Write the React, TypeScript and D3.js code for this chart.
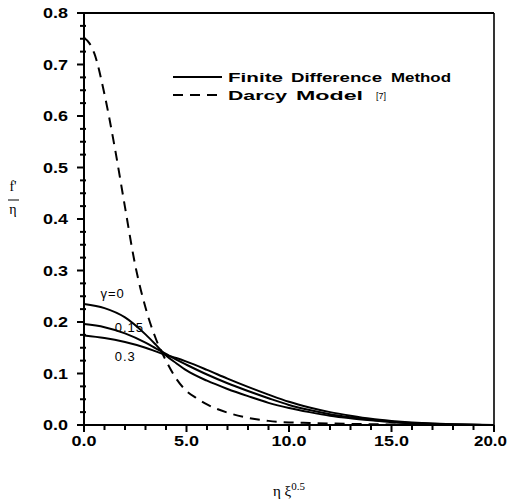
import React from "react";
import * as d3 from "d3";

const xs = [0, 1, 2, 3, 3.5, 4, 4.5, 5, 6, 7, 8, 9, 10, 11, 12, 13, 14, 15, 16, 17, 18, 19, 20];
const gamma0 = [0.235, 0.227, 0.209, 0.176, 0.156, 0.135, 0.12, 0.106, 0.086, 0.07, 0.056, 0.043, 0.033, 0.025, 0.018, 0.013, 0.009, 0.0055, 0.0033, 0.0018, 0.0008, 0.0003, 0];
const gamma015 = [0.196, 0.19, 0.178, 0.16, 0.149, 0.138, 0.127, 0.117, 0.098, 0.081, 0.066, 0.052, 0.039, 0.029, 0.021, 0.015, 0.01, 0.0065, 0.004, 0.0022, 0.001, 0.0004, 0];
const gamma03 = [0.174, 0.169, 0.161, 0.15, 0.143, 0.136, 0.13, 0.123, 0.107, 0.09, 0.074, 0.059, 0.045, 0.034, 0.025, 0.018, 0.012, 0.008, 0.005, 0.0028, 0.0013, 0.0005, 0];

const darcyX = [0, 0.25, 0.5, 1.0, 1.5, 2.0, 2.5, 3.0, 3.5, 4.0, 4.5, 5.0, 5.5, 6, 7, 8, 9, 10, 11, 12, 14, 16, 20];
const darcyY = [0.752, 0.742, 0.722, 0.642, 0.539, 0.423, 0.31, 0.228, 0.168, 0.125, 0.09, 0.066, 0.052, 0.04, 0.024, 0.014, 0.008, 0.005, 0.004, 0.003, 0.0015, 0.0005, 0];

const xMajor = [0, 5, 10, 15, 20];
const yMajor = [0, 0.1, 0.2, 0.3, 0.4, 0.5, 0.6, 0.7, 0.8];

const curveLabels = [
  { text: "\u03b3=0", x: 0.8, y: 0.247 },
  { text: "0.15", x: 1.5, y: 0.18 },
  { text: "0.3", x: 1.5, y: 0.124 },
];

const legendWords = [
  { text: "Finite", x: 228, y: 82, w: 55, size: 13, bold: true },
  { text: "Difference", x: 291, y: 82, w: 91, size: 13, bold: true },
  { text: "Method", x: 391, y: 82, w: 60, size: 13, bold: true },
  { text: "Darcy", x: 228, y: 100, w: 59, size: 13, bold: true },
  { text: "Model", x: 296, y: 100, w: 67, size: 13, bold: true },
  { text: "[7]", x: 376, y: 99, w: 10, size: 9, bold: false },
];

export default function App() {
  const left = 84, right = 494, top = 13, bottom = 425;
  const x = d3.scaleLinear().domain([0, 20]).range([left, right]);
  const y = d3.scaleLinear().domain([0, 0.8]).range([bottom, top]);
  const line = d3
    .line<[number, number]>()
    .x((d) => x(d[0]))
    .y((d) => y(d[1]))
    .curve(d3.curveMonotoneX);

  const solid = [gamma0, gamma015, gamma03].map((s) => line(xs.map((v, i) => [v, s[i]] as [number, number])) || "");
  const dashed = line(darcyX.map((v, i) => [v, darcyY[i]] as [number, number])) || "";

  const xMinor = d3.range(0, 21, 1).filter((v) => v % 5 !== 0);
  const yMinor = d3.range(0, 33).map((i) => i * 0.025).filter((_, i) => i % 4 !== 0);

  const tickFont = "'Liberation Sans', Arial, sans-serif";
  const labelWidth = (s: string) => (s.length - 1) * 10 + 5;

  return (
    <svg width={508} height={504} style={{ position: "absolute", left: 0, top: 0, background: "#fff" }}>
      <rect x={0} y={0} width={508} height={504} fill="#fff" />
      {/* frame */}
      <line x1={left} y1={top} x2={right} y2={top} stroke="#000" strokeWidth={2} />
      <line x1={right} y1={top} x2={right} y2={bottom} stroke="#000" strokeWidth={1.6} />
      <line x1={left} y1={bottom} x2={right} y2={bottom} stroke="#000" strokeWidth={2} />
      <line x1={left} y1={top} x2={left} y2={bottom} stroke="#000" strokeWidth={2} />

      {/* x ticks */}
      {xMajor.map((v) => (
        <line key={"xM" + v} x1={x(v)} x2={x(v)} y1={bottom} y2={bottom + 7} stroke="#000" strokeWidth={2} />
      ))}
      {xMinor.map((v) => (
        <line key={"xm" + v} x1={x(v)} x2={x(v)} y1={bottom} y2={bottom + 5} stroke="#000" strokeWidth={2} />
      ))}
      {xMajor.map((v, i) => {
        const s = v.toFixed(1);
        const last = i === xMajor.length - 1;
        const w = last ? labelWidth(s) - 2 : labelWidth(s);
        const x0 = last ? 507 - w : x(v) - w / 2;
        return (
          <text
            key={"xl" + v}
            x={x0}
            y={bottom + 21}
            fontFamily={tickFont}
            fontWeight="bold"
            fontSize={14}
            textLength={w}
            lengthAdjust="spacingAndGlyphs"
          >
            {s}
          </text>
        );
      })}

      {/* y ticks */}
      {yMajor.map((v) => (
        <line key={"yM" + v} x1={left - 7} x2={left + 1} y1={y(v)} y2={y(v)} stroke="#000" strokeWidth={2} />
      ))}
      {yMinor.map((v) => (
        <line key={"ym" + v} x1={left - 4} x2={left + 2} y1={y(v)} y2={y(v)} stroke="#000" strokeWidth={2} />
      ))}
      {yMajor.map((v) => {
        const s = v.toFixed(1);
        const w = labelWidth(s);
        return (
          <text
            key={"yl" + v}
            x={68 - w}
            y={y(v) + 5}
            fontFamily={tickFont}
            fontWeight="bold"
            fontSize={14}
            textLength={w}
            lengthAdjust="spacingAndGlyphs"
          >
            {s}
          </text>
        );
      })}

      {/* curves */}
      {solid.map((d, i) => (
        <path key={"s" + i} d={d} fill="none" stroke="#000" strokeWidth={2} />
      ))}
      <path d={dashed} fill="none" stroke="#000" strokeWidth={2} strokeDasharray="10,7" />

      {/* curve labels */}
      {curveLabels.map((l) => (
        <text key={l.text} x={x(l.x)} y={y(l.y)} fontFamily={tickFont} fontSize={13} letterSpacing={1}>
          {l.text}
        </text>
      ))}

      {/* legend */}
      <line x1={173} x2={222} y1={77} y2={77} stroke="#000" strokeWidth={2} />
      <line x1={173} x2={222} y1={95} y2={95} stroke="#000" strokeWidth={2} strokeDasharray="10,7" />
      {legendWords.map((w) => (
        <text
          key={w.text}
          x={w.x}
          y={w.y}
          fontFamily={tickFont}
          fontWeight={w.bold ? "bold" : "normal"}
          fontSize={w.size}
          textLength={w.w}
          lengthAdjust="spacingAndGlyphs"
        >
          {w.text}
        </text>
      ))}

      {/* y label: f'/eta fraction */}
      <text x={13} y={191} textAnchor="middle" fontFamily="'Liberation Serif', serif" fontSize={14}>
        f'
      </text>
      <line x1={8} x2={19} y1={200} y2={200} stroke="#000" strokeWidth={1} />
      <text x={13} y={214} textAnchor="middle" fontFamily="'Liberation Serif', serif" fontSize={14}>
        η
      </text>

      {/* x label */}
      <text x={289} y={496} textAnchor="middle" fontFamily="'Liberation Serif', serif" fontSize={15}>
        η ξ<tspan fontSize={11} dy={-6}>0.5</tspan>
      </text>
    </svg>
  );
}
